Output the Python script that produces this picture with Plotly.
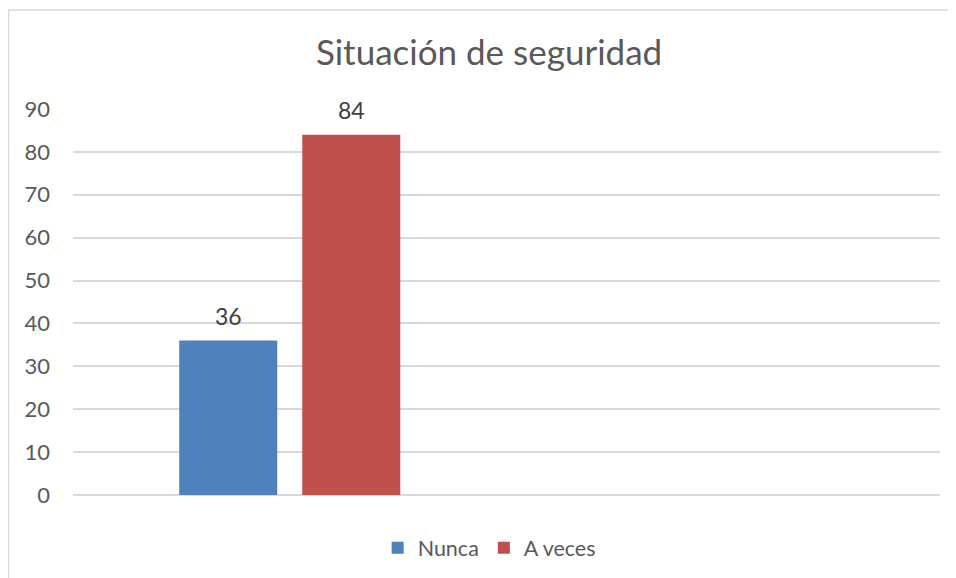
import plotly.graph_objects as go

categories = ["Situación de seguridad"]
series_names = ["Nunca", "A veces"]
nunca_values = [36]
a_veces_values = [84]
y_ticks = [0, 10, 20, 30, 40, 50, 60, 70, 80, 90]

FONT = "Lato, Carlito, Calibri, sans-serif"
GRAY = "#595959"
LABEL = "#404040"
COLORS = ["#4f81bd", "#c0504d"]
SLOT_SHIFT = 61.5  # px half distance between grouped bar centres

fig = go.Figure()
for name, vals, col in zip(series_names, [nunca_values, a_veces_values], COLORS):
    fig.add_trace(go.Bar(
        name=name, x=categories, y=vals,
        marker=dict(color=col, line=dict(width=0)),
    ))

annotations = []
for k, vals in enumerate([nunca_values, a_veces_values]):
    for cat, v in zip(categories, vals):
        annotations.append(dict(
            x=cat, y=v, xref="x", yref="y", text=str(v), showarrow=False,
            yanchor="bottom", xanchor="center", yshift=9,
            xshift=(-SLOT_SHIFT if k == 0 else SLOT_SHIFT),
            font=dict(family=FONT, size=23, color=LABEL),
        ))

fig.update_layout(
    width=948, height=570,
    margin=dict(l=65, r=16, t=101, b=83, autoexpand=False),
    paper_bgcolor="white", plot_bgcolor="white",
    barmode="group", bargap=0.4325, bargroupgap=0.203,
    font=dict(family=FONT, color=GRAY),
    title=dict(text="Situación de seguridad", x=0.5074, xref="container", xanchor="center",
               y=0.921, yref="container", yanchor="middle",
               font=dict(family=FONT, size=35, color=GRAY)),
    xaxis=dict(type="category", range=[-0.5, 1.5], showticklabels=False,
               showgrid=False, zeroline=False, showline=False, ticks=""),
    yaxis=dict(range=[0, 90], tickvals=y_ticks, showgrid=True, gridcolor="#d9d9d9",
               gridwidth=1.5, zeroline=True, zerolinecolor="#d9d9d9", zerolinewidth=1.5,
               showline=False, ticks="", ticklabelstandoff=22,
               tickfont=dict(family=FONT, size=22, color=GRAY)),
    legend=dict(orientation="h", x=0.480, xanchor="center", y=-0.137, yanchor="middle",
                font=dict(family=FONT, size=21.5, color=GRAY), traceorder="normal",
                itemwidth=30),
    annotations=annotations,
    shapes=[dict(type="rect", xref="paper", yref="paper", x0=-0.0744, x1=1.2,
                 y0=-0.4, y1=1.2565, line=dict(color="#d9d9d9", width=1.5),
                 fillcolor="rgba(0,0,0,0)", layer="below")],
    showlegend=True,
)

fig.write_html("out.html")
